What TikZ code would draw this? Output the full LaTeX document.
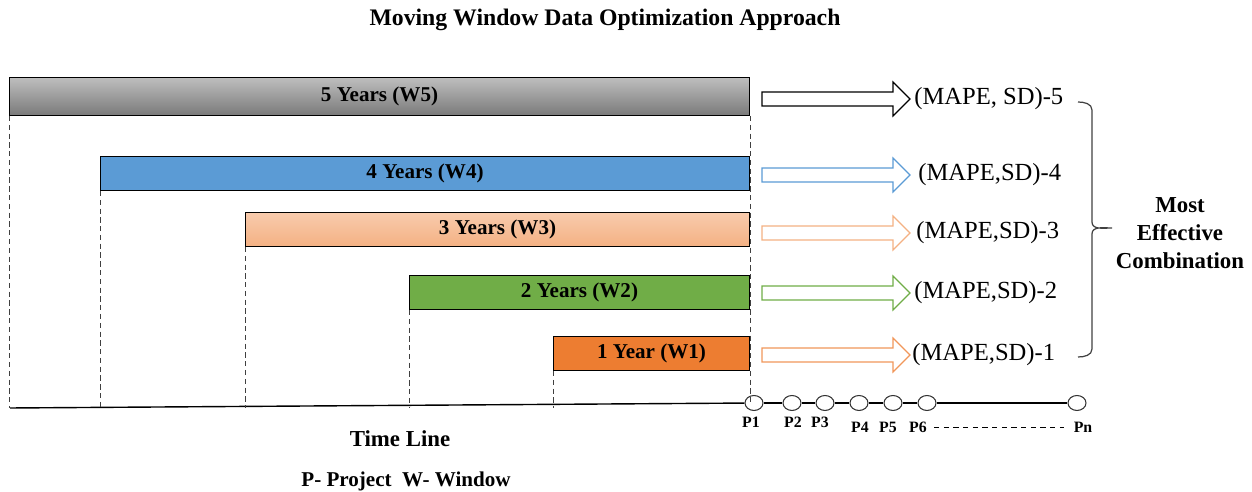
\documentclass[tikz,border=0pt]{standalone}
\usepackage{fontspec}
\setmainfont{Liberation Serif}
\usetikzlibrary{shapes.geometric}

\definecolor{winblue}{HTML}{5B9BD5}
\definecolor{wingreen}{HTML}{70AD47}
\definecolor{winorange}{HTML}{ED7D31}
\definecolor{winpeachtop}{HTML}{F8CBAD}
\definecolor{winpeach}{HTML}{F4B183}
\definecolor{wingraytop}{HTML}{BEBEBE}
\definecolor{wingray}{HTML}{7A7A7A}

\tikzset{
  winbar/.style={draw=black, line width=0.6pt, minimum height=0.68cm, inner sep=0pt,
    anchor=south east, font=\fontsize{12}{14}\selectfont\bfseries},
  guide/.style={draw=black!75, dash pattern=on 3pt off 2pt, line width=0.5pt},
  blockarrow/.style={line width=0.7pt, fill=white},
  result/.style={anchor=west, inner sep=0pt, font=\fontsize{14}{16}\selectfont},
  project/.style={draw=black!80, ellipse, minimum width=0.36cm, minimum height=0.3cm,
    inner sep=0pt, line width=0.6pt, fill=white},
  plabel/.style={font=\fontsize{9}{11}\selectfont\bfseries, inner sep=0pt},
}

\begin{document}
\begin{tikzpicture}[x=0.02cm, y=-0.02cm]

    \useasboundingbox (0,0) rectangle (1252,492);

    % Title
    \node[font=\fontsize{13.5}{16}\selectfont\bfseries] (title) at (605,20) {Moving Window Data Optimization Approach};

    % Windows
    \node[winbar, minimum width=14.8cm, minimum height=0.76cm, top color=wingraytop, bottom color=wingray] (w5) at (750,116) {5 Years (W5)};
    \node[winbar, minimum width=12.98cm, fill=winblue] (w4) at (750,191) {4 Years (W4)};
    \node[winbar, minimum width=10.08cm, top color=winpeachtop, bottom color=winpeach] (w3) at (750,247) {3 Years (W3)};
    \node[winbar, minimum width=6.8cm, fill=wingreen] (w2) at (750,310) {2 Years (W2)};
    \node[winbar, minimum width=3.92cm, fill=winorange] (w1) at (750,371) {1 Year (W1)};

    % Projects on the time line
    \coordinate (tl) at (10,408);
    \node[project] (p1) at (754,403) {};
    \node[project] (p2) at (792,403) {};
    \node[project] (p3) at (825,403) {};
    \node[project] (p4) at (859,403) {};
    \node[project] (p5) at (893,403) {};
    \node[project] (p6) at (927,403) {};
    \node[project] (pn) at (1077,403) {};

    \draw[line width=0.8pt] (tl) -- (p1);
    \draw[line width=0.6pt] (p1) -- (p2) -- (p3) -- (p4) -- (p5) -- (p6) -- (pn);

    \node[plabel] (l1) at (751,422) {P1};
    \node[plabel] (l2) at (793,422) {P2};
    \node[plabel] (l3) at (820,422) {P3};
    \node[plabel] (l4) at (860,427) {P4};
    \node[plabel] (l5) at (888,427) {P5};
    \node[plabel] (l6) at (918,427) {P6};
    \node[plabel] (ln) at (1083,427) {Pn};
    \draw[dash pattern=on 3pt off 2.5pt, line width=0.5pt, shorten <=0.14cm, shorten >=0.18cm] (l6) -- (ln);

    % Window start lines
    \draw[guide] (w5.south west) -- (w5.south west |- tl);
    \draw[guide] (w4.south west) -- (w4.south west |- tl);
    \draw[guide] (w3.south west) -- (w3.south west |- tl);
    \draw[guide] (w2.south west) -- (w2.south west |- tl);
    \draw[guide] (w1.south west) -- (w1.south west |- tl);
    \draw[guide] (w5.south east) -- (w5.south east |- p1.center);

    % Block arrows
    \foreach \y/\c in {99/black, 175/winblue, 233/winpeach, 293/wingreen, 355/winorange!80}
        \draw[blockarrow, draw=\c] (762,{\y-7}) -- (893,{\y-7}) -- (893,{\y-17}) -- (910,\y)
            -- (893,{\y+17}) -- (893,{\y+7}) -- (762,{\y+7}) -- cycle;

    % Results
    \node[result] (m5) at (914,99) {(MAPE, SD)-5};
    \node[result] (m4) at (918,175) {(MAPE,SD)-4};
    \node[result] (m3) at (916,233) {(MAPE,SD)-3};
    \node[result] (m2) at (914,293) {(MAPE,SD)-2};
    \node[result] (m1) at (912,355) {(MAPE,SD)-1};

    % Brace
    \draw[line width=0.7pt, black!75] (1078,102) to[out=0, in=90] (1092,110) -- (1092,222)
        to[out=-90, in=180] (1112,228) to[out=180, in=90] (1092,234) -- (1092,349)
        to[out=-90, in=0] (1078,357);
    \node[font=\fontsize{13}{16}\selectfont\bfseries, align=center] (best) at (1180,233) {Most\\Effective\\Combination};

    % Time line text
    \node[font=\fontsize{13}{16}\selectfont\bfseries] (timeline) at (400,439) {Time Line};
    \node[font=\fontsize{12}{14}\selectfont\bfseries] (legend) at (406,481) {P- Project\ \ W- Window};
\end{tikzpicture}
\end{document}
